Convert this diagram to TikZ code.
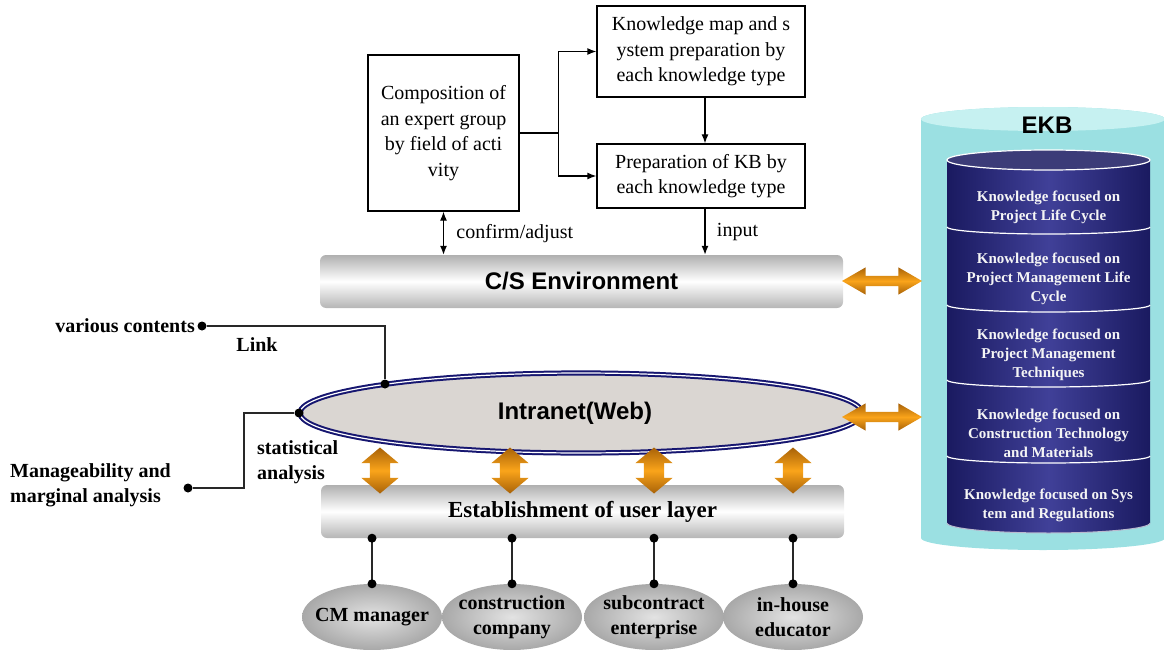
\documentclass[tikz,border=0pt]{standalone}
\usepackage{fontspec}
\setmainfont{Liberation Serif}
\newfontfamily\arialfont{Liberation Sans}
\usetikzlibrary{arrows.meta,shapes.geometric,shapes.arrows}
\definecolor{ekbcyan}{RGB}{155,224,226}
\definecolor{ekbcap}{RGB}{198,241,241}
\definecolor{ekbnavy}{RGB}{26,26,96}
\definecolor{ekbmid}{RGB}{64,64,152}
\definecolor{netfill}{RGB}{218,214,210}
\definecolor{netline}{RGB}{22,22,112}
\definecolor{fatorange}{RGB}{250,164,26}
\definecolor{fatdark}{RGB}{168,98,8}
\definecolor{wire}{RGB}{40,40,40}

\begin{document}
\begin{tikzpicture}[x=1pt,y=-1pt,
  box/.style={draw, line width=1.3pt, align=center, inner sep=0pt, font=\fontsize{20}{25.5}\selectfont},
  bar/.style={rounded corners=6pt, top color=gray!62, bottom color=gray!58, middle color=white, minimum width=523pt, minimum height=53pt, inner sep=0pt},
  user/.style={ellipse, inner color=gray!22, outer color=gray!68, minimum width=140pt, minimum height=66pt, inner sep=0pt},
  usertxt/.style={font=\fontsize{20}{25}\selectfont\bfseries, align=center},
  fatx/.style={double arrow, double arrow head extend=8.5pt, double arrow tip angle=60, minimum height=80pt, inner xsep=0pt, inner ysep=5pt, top color=fatdark, bottom color=fatdark, middle color=fatorange},
  faty/.style={double arrow, double arrow head extend=8.5pt, double arrow tip angle=100, minimum height=46pt, inner xsep=0pt, inner ysep=10pt, rotate=90, top color=fatdark, bottom color=fatdark, middle color=fatorange},
  dot/.style={circle, fill=black, inner sep=0pt, minimum size=9pt},
  wireline/.style={draw=wire, line width=1.6pt},
  lbl/.style={font=\fontsize{20}{25}\selectfont\bfseries, align=left, inner sep=0pt},
  ekbtxt/.style={text=gray!8, font=\fontsize{15}{19}\selectfont\bfseries, align=center},
  >={Latex[length=9pt,width=7pt]}]
  \useasboundingbox (0,0) rectangle (1164,650);

  % EKB store
  \path[fill=ekbcyan] (921,119) -- (921,538) arc[start angle=180, end angle=0, x radius=122, y radius=12]
    -- (1165,119) arc[start angle=0, end angle=-180, x radius=122, y radius=12] -- cycle;
  \path[fill=ekbcap] (1043,119) ellipse[x radius=122, y radius=12];
  \node[font=\arialfont\bfseries\fontsize{24}{28}\selectfont, inner sep=0pt] (ekb) at (1047,125) {EKB};
  \path[left color=ekbnavy, right color=ekbnavy, middle color=ekbmid] (947,160) -- (947,523)
    arc[start angle=180, end angle=0, x radius=101.5, y radius=10]
    -- (1150,160) arc[start angle=0, end angle=-180, x radius=101.5, y radius=10] -- cycle;
  \draw[white, line width=1.2pt, fill=ekbnavy!85!white] (1048.5,160) ellipse[x radius=101.5, y radius=10];
  \foreach \s in {227,305,380,456}
    \draw[white, line width=1.2pt] (947,\s) arc[start angle=180, end angle=0, x radius=101.5, y radius=7];
  \draw[white!70!ekbnavy, line width=1pt] (947,523) arc[start angle=180, end angle=0, x radius=101.5, y radius=10];
  \node[ekbtxt] (k1) at (1048.5,207) {Knowledge focused on\\Project Life Cycle};
  \node[ekbtxt] (k2) at (1048.5,279) {Knowledge focused on\\Project Management Life\\Cycle};
  \node[ekbtxt] (k3) at (1048.5,355) {Knowledge focused on\\Project Management\\Techniques};
  \node[ekbtxt] (k4) at (1048.5,433) {Knowledge focused on\\Construction Technology\\and Materials};
  \node[ekbtxt] (k5) at (1048.5,505) {Knowledge focused on Sys\\tem and Regulations};

  % preparation boxes
  \node[box, minimum width=151pt, minimum height=156pt] (comp) at (443.5,133) {Composition of\\an expert group\\by field of acti\\vity};
  \node[box, minimum width=208pt, minimum height=91pt] (kmap) at (701,51.5) {Knowledge map and s\\ystem preparation by\\each knowledge type};
  \node[box, minimum width=208pt, minimum height=64pt] (kb) at (701,176) {Preparation of KB by\\each knowledge type};
  \draw[line width=1.3pt, ->] (comp.east) -- ++(39,0) |- (kmap.west);
  \draw[line width=1.3pt, ->] (comp.east) -- ++(39,0) |- (kb.west);
  \draw[line width=1.3pt, ->] ([xshift=4pt]kmap.south) -- ([xshift=4pt]kb.north);

  % layers
  \node[bar] (cs) at (581.5,281.5) {\arialfont\bfseries\fontsize{24}{28}\selectfont C/S Environment};
  \draw[line width=1.3pt, <->] (comp.south) -- (comp.south |- cs.north)
    node[midway, right=9pt, font=\fontsize{20}{24}\selectfont] (conf) {confirm/adjust};
  \draw[line width=1.3pt, ->] ([xshift=4pt]kb.south) -- ([xshift=4pt]kb.south |- cs.north)
    node[midway, right=8pt, font=\fontsize{20}{24}\selectfont] (inp) {input};
  \node[ellipse, fill=netfill, draw=netline, line width=2pt, double=white, double distance=1.2pt,
    minimum width=562pt, minimum height=80pt, inner sep=0pt] (net) at (581,413) {};
  \node[font=\arialfont\bfseries\fontsize{24}{28}\selectfont] (webtxt) at (575,413) {Intranet(Web)};
  \node[bar] (ul) at (582.5,511.5) {\bfseries\fontsize{23}{27}\selectfont Establishment of user layer};

  % exchange arrows
  \node[fatx] (csx) at (882,281) {};
  \node[fatx] (netx) at (882,417) {};
  \foreach \x in {380,510,654,793}
    \node[faty] (v\x) at (\x,470.5) {};

  % users
  \node[user] (u1) at (372,617) {};
  \node[user] (u2) at (512,617) {};
  \node[user] (u3) at (654,617) {};
  \node[user] (u4) at (793,617) {};
  \node[usertxt] (t1) at (u1) {CM manager};
  \node[usertxt] (t2) at (u2) {construction\\company};
  \node[usertxt] (t3) at (u3) {subcontract\\enterprise};
  \node[usertxt] (t4) at (u4) {in-house\\educator};
  \foreach \i in {1,...,4}
    \draw[wireline] (u\i.north |- ul.south) node[dot] {} -- (u\i.north) node[dot] {};

  % outside sources
  \node[lbl, anchor=east] (vc) at (195,326) {various contents};
  \node[dot] (vcdot) at (202,326) {};
  \node[dot] (netlink) at (385,384) {};
  \draw[wireline] (vcdot) -| (netlink);
  \node[lbl] (link) at (257,345) {Link};
  \node[dot] (netstat) at (net.west) {};
  \node[dot] (mmdot) at (188,488) {};
  \draw[wireline] (netstat) -- ++(-55,0) |- (mmdot);
  \node[lbl, anchor=west] (mm) at (10,485) {Manageability and\\marginal analysis};
  \node[lbl, anchor=west] (sa) at (257,462) {statistical\\analysis};
\end{tikzpicture}
\end{document}
